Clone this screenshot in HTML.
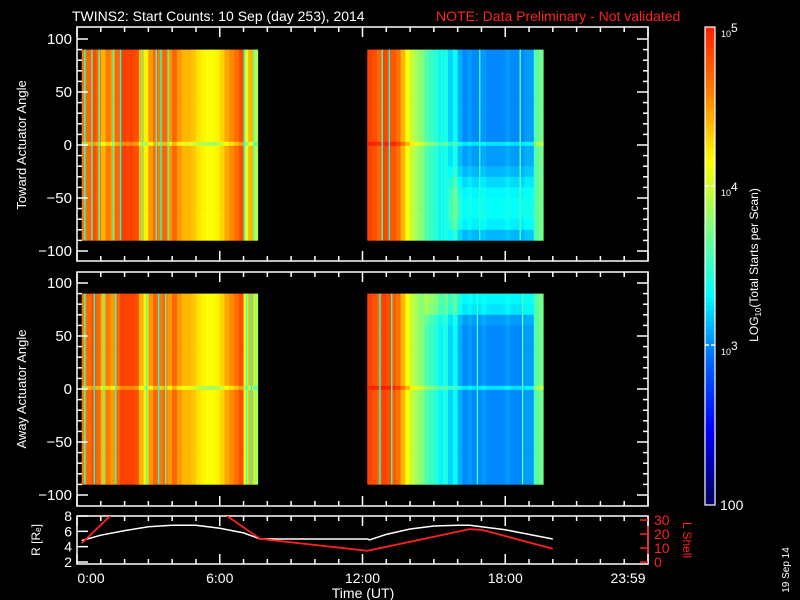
<!DOCTYPE html>
<html><head><meta charset="utf-8"><style>
html,body{margin:0;padding:0;background:#000;}
svg{display:block;font-family:"Liberation Sans",sans-serif;}
</style></head><body>
<svg id="chart" width="800" height="600" viewBox="0 0 800 600" xmlns="http://www.w3.org/2000/svg">
<rect width="800" height="600" fill="#000"/>
<text x="72" y="21" fill="#fff" font-size="14">TWINS2: Start Counts: 10 Sep (day 253), 2014</text>
<text x="436" y="21" fill="#ff2020" font-size="14">NOTE: Data Preliminary - Not validated</text>
<g id="heat1"></g>
<g id="heat2"></g>
<g id="axes"></g>
<g id="lines"></g>
<g id="cbar"></g>
</svg>
<script>
// ---- data ----
const block1Start = 0.2;   // hours
const block2Start = 12.2;
const binHours = 0.2;
const block1Base = [4.6,4.7,4.8,4.7,4.4,4.6,4.5,4.7,4.85,4.85,4.85,4.8,4.4,4.2,4.5,4.7,4.6,4.7,4.5,4.7,4.5,4.4,4.4,4.35,4.25,4.2,4.15,4.15,4.2,4.3,4.45,4.55,4.65,4.8,4.1,4.4,3.9];
const block2Base = [4.85,4.8,4.7,4.85,4.8,4.75,4.65,4.4,4.15,3.95,3.85,3.75,3.6,3.5,3.45,3.3,3.4,3.2,3.35,3.1,3.0,3.05,3.0,3.0,3.05,3.0,3.0,3.0,3.0,3.05,3.0,3.0,3.0,3.05,3.05,3.6,3.7];
const angleBins = [85,75,65,55,45,35,25,15,5,-5,-15,-25,-35,-45,-55,-65,-75,-85];
const towardBlock2Adj = [0,0,0,0,0,0,0,0,0,0.05,0.05,0.12,0.22,0.3,0.33,0.33,0.28,0.12];
const towardAdjFromCol = 17;
const awayBlock2Adj = [0.3,0.25,0.05,0,0,0,0,0,0,0,0,0,0,0,0,0,0,0];
const awayAdjFromCol = 12;
const streakTimes1 = [0.3,0.6,0.9,1.5,1.8,2.7,3.3,3.5,3.8,7.0,7.4,12.8,13.1,15.3,16.9,18.6];
const streakVals1 = [3.4,3.5,3.6,3.5,3.4,3.6,3.5,3.4,3.6,3.4,3.6,3.5,3.4,3.5,3.5,3.6];
const streakTimes2 = [0.3,0.7,1.1,1.6,2.9,3.4,3.7,7.1,7.3,12.7,13.2,15.4,16.8,18.7];
const streakVals2 = [3.5,3.4,3.6,3.5,3.6,3.4,3.6,3.5,3.4,3.4,3.5,3.5,3.5,3.6];
const rTimes = [0.2,1,2,3,4,5,6,7,7.7,12.2,12.3,13,14,15,16,16.5,17,18,19,20];
const rValues = [4.8,5.5,6.1,6.6,6.8,6.8,6.4,5.8,5.0,5.0,4.9,5.6,6.3,6.7,6.8,6.8,6.6,6.2,5.6,5.0];
const lTimes = [0.2,1.4,null,6.3,7.7,12.2,16.5,17,20];
const lValues = [13.5,33,null,33,16.5,8,23.5,23,9.5];
const yTicks = [-100,-50,0,50,100];
const rTicks = [2,4,6,8];
const lTicks = [0,10,20,30];
const timeTicks = [0,6,12,18,24];
const timeLabels = ["0:00","6:00","12:00","18:00","23:59"];

// ---- scales ----
const X0=77, X1=648;
const xs = h => X0 + h*(X1-X0)/24;
const panels = [{top:27,bot:261,y0:145},{top:272,bot:506,y0:389}];
const ya = (p,a) => p.y0 - a*1.06;
const yR = r => 564 - (r-1.74)*7.67;
const yL = l => 564 - (l+1.4)*1.4;
const stops=[[0,[0,0,96]],[0.05,[0,0,140]],[0.16,[0,0,255]],[0.3,[0,100,255]],[0.44,[0,255,255]],[0.58,[128,255,128]],[0.72,[255,255,0]],[0.86,[255,128,0]],[1,[255,32,0]]];
function col(v){let t=Math.max(0,Math.min(1,(v-2)/3));for(let i=1;i<stops.length;i++){if(t<=stops[i][0]){const a=stops[i-1],b=stops[i],f=(t-a[0])/(b[0]-a[0]);const c=a[1].map((x,k)=>Math.round(x+(b[1][k]-x)*f));return `rgb(${c[0]},${c[1]},${c[2]})`;}}return 'rgb(255,32,0)';}
const NS='http://www.w3.org/2000/svg';
function mk(tag,attrs,parent){const e=document.createElementNS(NS,tag);for(const k in attrs)e.setAttribute(k,attrs[k]);parent.appendChild(e);return e;}

function drawHeat(g,p,adj2,fromCol,sT,sV){
  [[block1Start,block1Base,null],[block2Start,block2Base,adj2]].forEach(([st,base,adj])=>{
    base.forEach((v,i)=>{
      angleBins.forEach((a,j)=>{
        let val=v+((adj&&i>=fromCol&&i<35)?adj[j]:0);
        const x=xs(st+i*binHours), w=xs(st+(i+1)*binHours)-x;
        const y=ya(p,a+5), h=ya(p,a-5)-y;
        const r=mk('rect',{x:x.toFixed(2),y:y.toFixed(2),width:(w+0.3).toFixed(2),height:(h+0.3).toFixed(2),fill:col(val)},g);
        
        
      });
      const x=xs(st+i*binHours), w=xs(st+(i+1)*binHours)-x;
      const zr=mk('rect',{x:x,y:ya(p,3),width:w+0.3,height:4,fill:col(st<10?v-0.3:v+0.25)},g);
      
      
    });
  });
  sT.forEach((t,i)=>{
    const s=mk('rect',{x:xs(t),y:ya(p,90),width:1.4,height:ya(p,-90)-ya(p,90),fill:col(sV[i])},g);
    
    
  });
}
drawHeat(document.getElementById('heat1'),panels[0],towardBlock2Adj,towardAdjFromCol,streakTimes1,streakVals1);
drawHeat(document.getElementById('heat2'),panels[1],awayBlock2Adj,awayAdjFromCol,streakTimes2,streakVals2);

const ax=document.getElementById('axes');
function line(x1,y1,x2,y2,c,g){return mk('line',{x1,y1,x2,y2,stroke:c||'#fff','stroke-width':1.5},g||ax);}
function txt(s,x,y,attrs,g){const t=mk('text',Object.assign({x,y,fill:'#fff','font-size':13},attrs||{}),g||ax);t.textContent=s;return t;}
function timeTicksDraw(top,bot){
  for(let h=0;h<=24;h++){const x=xs(h),L=(h%6==0)?10:5;line(x,bot,x,bot-L);line(x,top,x,top+L);}
}
panels.forEach((p,k)=>{
  const b=mk('rect',{x:X0,y:p.top,width:X1-X0,height:p.bot-p.top,fill:'none',stroke:'#fff','stroke-width':1.5},ax);
  
  
  for(let a=-100;a<=100;a+=10){const y=ya(p,a),L=(a%50==0)?11:5;line(X0,y,X0+L,y);line(X1,y,X1-L,y);}
  yTicks.forEach(a=>{const t=txt(a==0?'0':(a<0?'\u2212'+(-a):String(a)),72,ya(p,a)+5,{'text-anchor':'end','font-size':15});});
  timeTicksDraw(p.top,p.bot);
});
const t1=txt('Toward Actuator Angle',0,0,{transform:'translate(26,145) rotate(-90)','text-anchor':'middle','font-size':13});

const t2=txt('Away Actuator Angle',0,0,{transform:'translate(26,389) rotate(-90)','text-anchor':'middle','font-size':13});


// bottom panel
const fb=mk('rect',{x:X0,y:516,width:X1-X0,height:48,fill:'none',stroke:'#fff','stroke-width':1.5},ax);

const rb=mk('line',{x1:X1,y1:516,x2:X1,y2:564,stroke:'#ff2020','stroke-width':1.5},ax);
timeTicksDraw(516,564);
rTicks.forEach(r=>{const y=yR(r);line(X0,y,X0+11,y);const t=txt(String(r),72,y+5,{'text-anchor':'end','font-size':14});});
lTicks.forEach(l=>{const y=yL(l);line(X1,y,X1-8,y,'#ff2020');const t=txt(String(l),654,y+5,{fill:'#ff2020','font-size':14});});
const rt=txt('R [R\u2091]',0,0,{transform:'translate(40,540) rotate(-90)','text-anchor':'middle','font-size':12});

const lt=txt('L Shell',0,0,{transform:'translate(683,540) rotate(90)','text-anchor':'middle','font-size':12,fill:'#ff2020'});

timeTicks.forEach((h,i)=>{let x=xs(h);if(i==0)x+=14;if(i==4)x-=20;const t=txt(timeLabels[i],x,583,{'text-anchor':'middle','font-size':14});});
const xt=txt('Time (UT)',363,598,{'text-anchor':'middle','font-size':14});

const dt=txt('19 Sep 14',0,0,{transform:'translate(789,570) rotate(-90)','text-anchor':'middle','font-size':10});


// lines
const lg=document.getElementById('lines');
const cp=mk('clipPath',{id:'cp'},lg);mk('rect',{x:X0,y:516,width:X1-X0,height:48},cp);
const rp=rTimes.map((t,i)=>xs(t).toFixed(1)+','+yR(rValues[i]).toFixed(1)).join(' ');
const rl=mk('polyline',{points:rp,fill:'none',stroke:'#fff','stroke-width':1.5,'clip-path':'url(#cp)'},lg);

let segs=[[]];lTimes.forEach((t,i)=>{if(t===null){segs.push([]);}else segs[segs.length-1].push(xs(t).toFixed(1)+','+yL(lValues[i]).toFixed(1));});
segs.forEach(s=>{const pl=mk('polyline',{points:s.join(' '),fill:'none',stroke:'#ff2020','stroke-width':1.8,'clip-path':'url(#cp)'},lg);
});

// colorbar
const cb=document.getElementById('cbar');
const CT=27,CB=505;
for(let i=0;i<120;i++){const y=CT+(CB-CT)*i/120;const v=5-3*(i+0.5)/120;mk('rect',{x:705,y:y,width:10,height:(CB-CT)/120+0.5,fill:col(v)},cb);}
const cf=mk('rect',{x:705,y:CT,width:10,height:CB-CT,fill:'none',stroke:'#fff','stroke-width':1.2},cb);

[186,345].forEach(y=>{line(705,y,709,y,'#fff',cb);line(711,y,715,y,'#fff',cb);});
function cbl(exp,y){const t=txt('10',721,y,{'font-size':9},cb);const s=txt(exp,731,y-5,{'font-size':12},cb);}
cbl('5',37);cbl('4',196);cbl('3',355);
const c100=txt('100',720,510,{'font-size':14},cb);
const ctl=mk('text',{x:0,y:0,transform:'translate(758,265) rotate(-90)','text-anchor':'middle','font-size':12,fill:'#fff'},cb);
ctl.innerHTML='LOG<tspan font-size="8" dy="3">10</tspan><tspan dy="-3">(Total Starts per Scan)</tspan>';


</script>
</body></html>
